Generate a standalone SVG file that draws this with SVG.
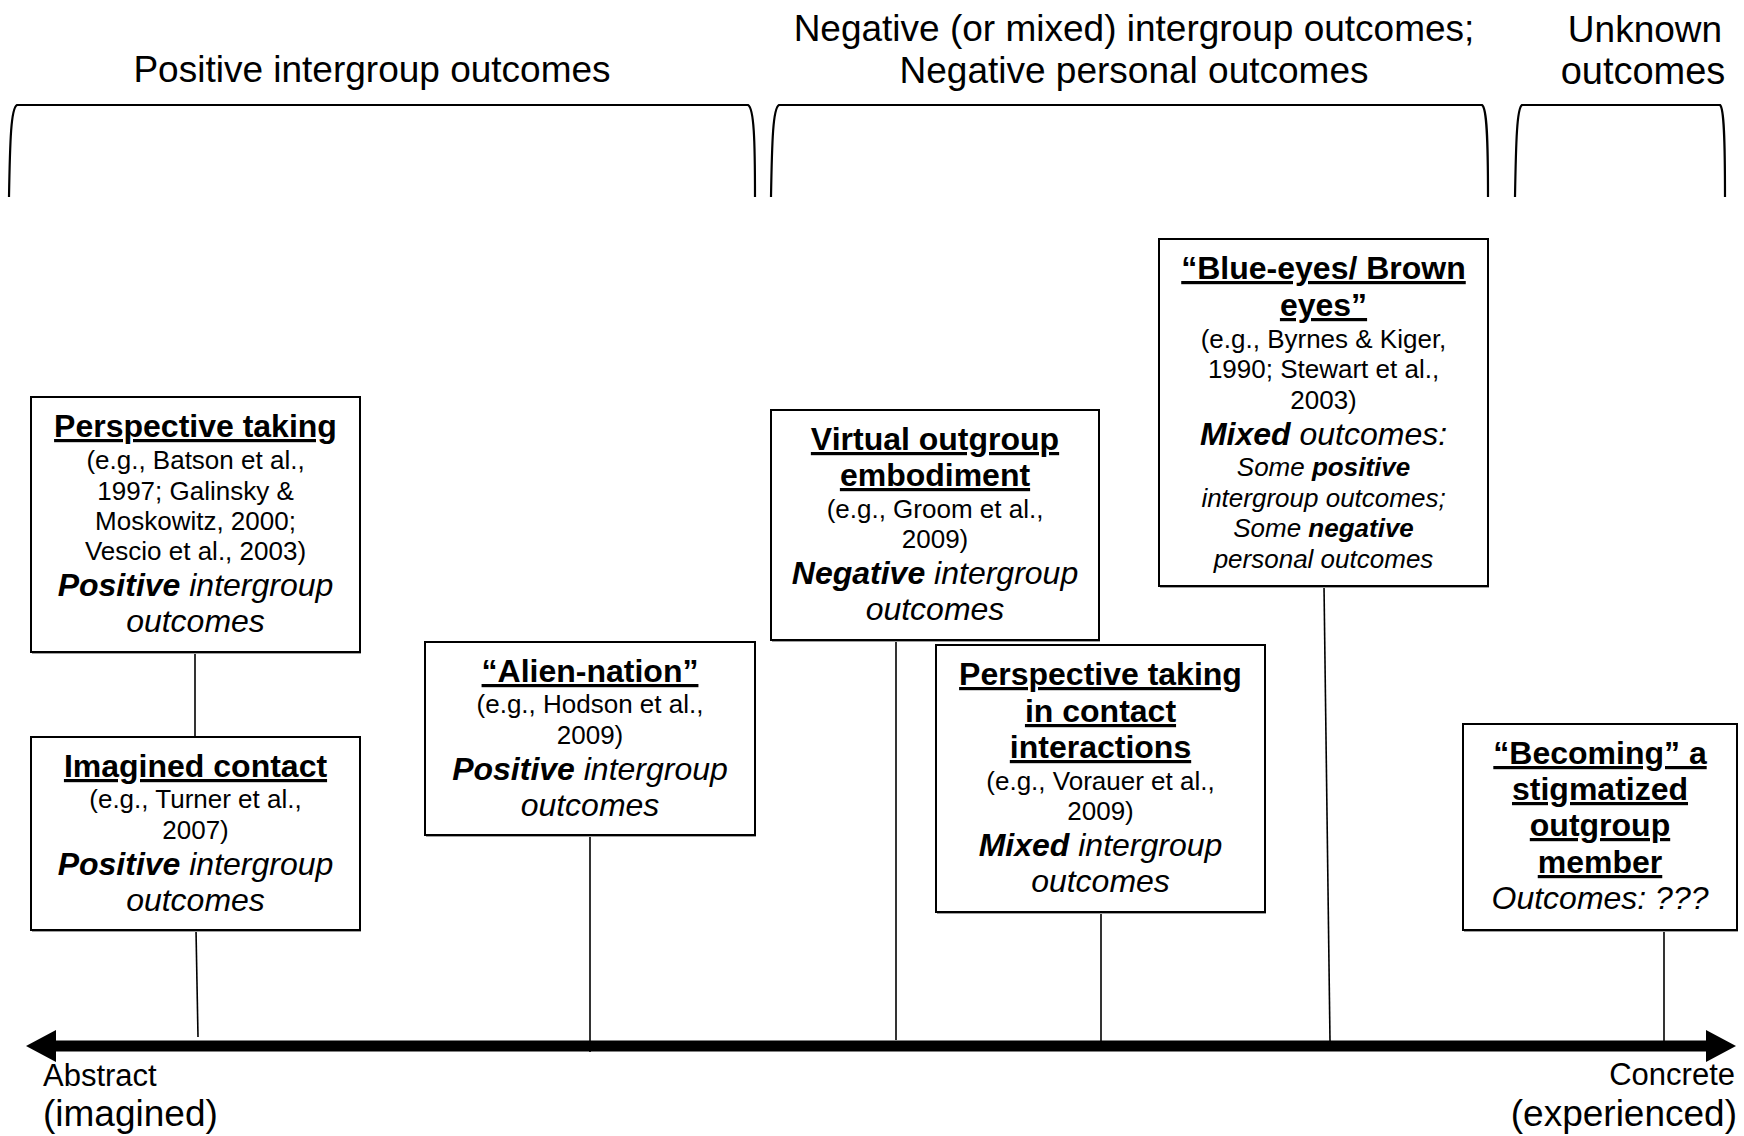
<svg xmlns="http://www.w3.org/2000/svg" width="1744" height="1136" viewBox="0 0 1744 1136">
  <defs>
    <style>
      text { font-family: "Liberation Sans", Arial, sans-serif; fill: #000; }
      .hdr { font-size: 37px; text-anchor: middle; }
      .ttl { font-size: 32px; font-weight: bold; text-decoration: underline; text-anchor: middle; }
      .ref { font-size: 26px; text-anchor: middle; }
      .out { font-size: 32px; font-style: italic; text-anchor: middle; }
      .sml { font-size: 26px; font-style: italic; text-anchor: middle; }
      .em { font-weight: bold; }
      .box { fill: #fff; stroke: #000; stroke-width: 2; }
      .shadow { fill: #a0a0a0; }
      .brace { fill: none; stroke: #000; stroke-width: 2.2; }
      .link { fill: none; stroke: #000; stroke-width: 1.6; }
      .axis { fill: none; stroke: #000; stroke-width: 11; }
      .end-lbl { font-size: 31px; }
      .end-sub { font-size: 37px; }
    </style>
    <marker id="head" viewBox="0 0 32 32" markerUnits="userSpaceOnUse" markerWidth="32" markerHeight="32" refX="1" refY="16" orient="auto-start-reverse">
      <path d="M0,0 L30,16 L0,32 Z" fill="#000"/>
    </marker>
  </defs>

  <rect width="1744" height="1136" fill="#fff"/>

  <!-- outcome category headings and brackets -->
  <g id="category-positive">
    <text class="hdr" x="372" y="82">Positive intergroup outcomes</text>
    <path class="brace" d="M9,197 C10,140 11,108 17,105 L748,105 C754,108 755,140 755,197"/>
  </g>
  <g id="category-negative">
    <text class="hdr" x="1134" y="41">Negative (or mixed) intergroup outcomes;</text>
    <text class="hdr" x="1134" y="83">Negative personal outcomes</text>
    <path class="brace" d="M771,197 C772,140 773,108 779,105 L1482,105 C1487,108 1488,140 1488,197"/>
  </g>
  <g id="category-unknown">
    <text class="hdr" x="1645" y="42">Unknown</text>
    <text class="hdr" x="1643" y="84" style="font-size:38px">outcomes</text>
    <path class="brace" d="M1515,197 C1516,140 1517,108 1522,105 L1720,105 C1724,108 1725,140 1725,197"/>
  </g>

  <!-- connectors: box stems and the abstract-to-concrete axis -->
  <g id="connectors">
    <path class="link" d="M195,652 V737"/>
    <path class="link" d="M196,930 L198,1037"/>
    <path class="link" d="M590,835 V1052"/>
    <path class="link" d="M896,640 V1040" stroke-width="1.2"/>
    <path class="link" d="M1101,912 V1041"/>
    <path class="link" d="M1324,586 L1330,1041"/>
    <path class="link" d="M1664,930 V1041"/>
    <path class="axis" d="M55,1046 H1707" marker-start="url(#head)" marker-end="url(#head)"/>
  </g>

  <g id="perspective-taking">
    <rect class="shadow" x="32" y="399" width="329" height="255"/>
    <rect class="box" x="31" y="397" width="329" height="255"/>
    <text class="ttl" x="195.5" y="437">Perspective taking</text>
    <text class="ref" x="195.5" y="469">(e.g., Batson et al.,</text>
    <text class="ref" x="195.5" y="500">1997; Galinsky &amp;</text>
    <text class="ref" x="195.5" y="530">Moskowitz, 2000;</text>
    <text class="ref" x="195.5" y="560">Vescio et al., 2003)</text>
    <text class="out" x="195.5" y="596"><tspan class="em">Positive</tspan> intergroup</text>
    <text class="out" x="195.5" y="632">outcomes</text>
  </g>

  <g id="imagined-contact">
    <rect class="shadow" x="32" y="739" width="329" height="193"/>
    <rect class="box" x="31" y="737" width="329" height="193"/>
    <text class="ttl" x="195.5" y="777">Imagined contact</text>
    <text class="ref" x="195.5" y="808">(e.g., Turner et al.,</text>
    <text class="ref" x="195.5" y="839">2007)</text>
    <text class="out" x="195.5" y="875"><tspan class="em">Positive</tspan> intergroup</text>
    <text class="out" x="195.5" y="911">outcomes</text>
  </g>

  <g id="alien-nation">
    <rect class="shadow" x="426" y="644" width="330" height="193"/>
    <rect class="box" x="425" y="642" width="330" height="193"/>
    <text class="ttl" x="590" y="682">“Alien-nation”</text>
    <text class="ref" x="590" y="713">(e.g., Hodson et al.,</text>
    <text class="ref" x="590" y="744">2009)</text>
    <text class="out" x="590" y="780"><tspan class="em">Positive</tspan> intergroup</text>
    <text class="out" x="590" y="816">outcomes</text>
  </g>

  <g id="virtual-embodiment">
    <rect class="shadow" x="772" y="412" width="328" height="230"/>
    <rect class="box" x="771" y="410" width="328" height="230"/>
    <text class="ttl" x="935" y="450">Virtual outgroup</text>
    <text class="ttl" x="935" y="486">embodiment</text>
    <text class="ref" x="935" y="518">(e.g., Groom et al.,</text>
    <text class="ref" x="935" y="548">2009)</text>
    <text class="out" x="935" y="584"><tspan class="em">Negative</tspan> intergroup</text>
    <text class="out" x="935" y="620">outcomes</text>
  </g>

  <g id="perspective-in-contact">
    <rect class="shadow" x="937" y="647" width="329" height="267"/>
    <rect class="box" x="936" y="645" width="329" height="267"/>
    <text class="ttl" x="1100.5" y="685">Perspective taking</text>
    <text class="ttl" x="1100.5" y="722">in contact</text>
    <text class="ttl" x="1100.5" y="758">interactions</text>
    <text class="ref" x="1100.5" y="790">(e.g., Vorauer et al.,</text>
    <text class="ref" x="1100.5" y="820">2009)</text>
    <text class="out" x="1100.5" y="856"><tspan class="em">Mixed</tspan> intergroup</text>
    <text class="out" x="1100.5" y="892">outcomes</text>
  </g>

  <g id="blue-brown-eyes">
    <rect class="shadow" x="1160" y="241" width="329" height="347"/>
    <rect class="box" x="1159" y="239" width="329" height="347"/>
    <text class="ttl" x="1323.5" y="279">“Blue-eyes/ Brown</text>
    <text class="ttl" x="1323.5" y="316">eyes”</text>
    <text class="ref" x="1323.5" y="348">(e.g., Byrnes &amp; Kiger,</text>
    <text class="ref" x="1323.5" y="378">1990; Stewart et al.,</text>
    <text class="ref" x="1323.5" y="409">2003)</text>
    <text class="out" x="1323.5" y="445"><tspan class="em">Mixed</tspan> outcomes:</text>
    <text class="sml" x="1323.5" y="476">Some <tspan class="em">positive</tspan></text>
    <text class="sml" x="1323.5" y="507">intergroup outcomes;</text>
    <text class="sml" x="1323.5" y="537">Some <tspan class="em">negative</tspan></text>
    <text class="sml" x="1323.5" y="568">personal outcomes</text>
  </g>

  <g id="becoming-stigmatized">
    <rect class="shadow" x="1464" y="726" width="274" height="206"/>
    <rect class="box" x="1463" y="724" width="274" height="206"/>
    <text class="ttl" x="1600" y="764">“Becoming” a</text>
    <text class="ttl" x="1600" y="800">stigmatized</text>
    <text class="ttl" x="1600" y="836">outgroup</text>
    <text class="ttl" x="1600" y="873">member</text>
    <text class="out" x="1600" y="909">Outcomes: ???</text>
  </g>

  <!-- axis end labels -->
  <g id="axis-labels">
    <text class="end-lbl" x="43" y="1086">Abstract</text>
    <text class="end-sub" x="43" y="1126">(imagined)</text>
    <text class="end-lbl" x="1735" y="1085" text-anchor="end">Concrete</text>
    <text class="end-sub" x="1737" y="1126" text-anchor="end">(experienced)</text>
  </g>
</svg>
